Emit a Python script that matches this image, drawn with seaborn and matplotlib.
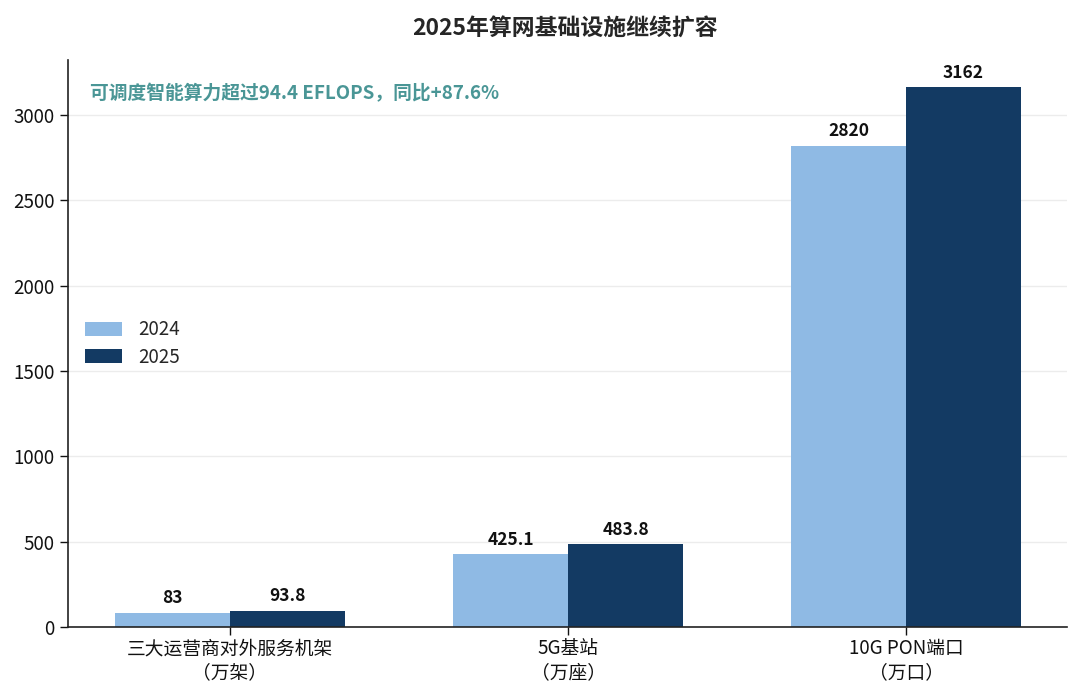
import pandas as pd
import matplotlib.pyplot as plt
import seaborn as sns

# Datos
categorias = ["三大运营商对外服务机架\n（万架）", "5G基站\n（万座）", "10G PON端口\n（万口）"]
valores_2024 = [83, 425.1, 2820]
valores_2025 = [93.8, 483.8, 3162]
etiquetas_2024 = ["83", "425.1", "2820"]
etiquetas_2025 = ["93.8", "483.8", "3162"]
anios = ["2024", "2025"]

df = pd.DataFrame({
    "categoria": categorias * 2,
    "valor": valores_2024 + valores_2025,
    "anio": [anios[0]] * 3 + [anios[1]] * 3,
})

sns.set_theme(style="whitegrid")
plt.rcParams["font.family"] = ["Noto Sans CJK SC", "DejaVu Sans"]
plt.rcParams["axes.unicode_minus"] = False

fig = plt.figure(figsize=(10.8, 6.97), dpi=100)
ax = fig.add_axes([0.063, 0.1004, 0.925, 0.8136])

sns.barplot(data=df, x="categoria", y="valor", hue="anio", width=0.68,
            palette=["#8fbae4", "#133a63"], saturation=1, linewidth=0, ax=ax)

# Etiquetas de valor
for cont, etiquetas in zip(ax.containers, [etiquetas_2024, etiquetas_2025]):
    ax.bar_label(cont, labels=etiquetas, padding=4, fontsize=12.5, fontweight="bold", color="#111111")

ax.set_xlim(-0.479, 2.476)
ax.set_ylim(0, 3323)
ax.set_yticks([0, 500, 1000, 1500, 2000, 2500, 3000])
ax.set_xlabel("")
ax.set_ylabel("")
ax.tick_params(axis="both", labelsize=13.5, colors="#111111", length=6, width=1, direction="out")
ax.tick_params(axis="x", pad=2)
ax.grid(axis="y", color="#ececec", linewidth=1)
ax.grid(axis="x", visible=False)
ax.set_facecolor("white")
for s in ["top", "right"]:
    ax.spines[s].set_visible(False)
for s in ["left", "bottom"]:
    ax.spines[s].set_color("#222222")
    ax.spines[s].set_linewidth(1.2)
ax.yaxis.set_ticks_position("left")
ax.xaxis.set_ticks_position("bottom")

ax.legend(loc="center left", bbox_to_anchor=(0.0, 0.50), frameon=False, fontsize=13.5,
          handlelength=2.0, handleheight=0.8, labelspacing=0.35, handletextpad=0.85)

ax.text(0.022, 0.94, "可调度智能算力超过94.4 EFLOPS，同比+87.6%", transform=ax.transAxes,
        fontsize=13.5, fontweight="bold", color="#4a9696", va="center", ha="left")

fig.suptitle("2025年算网基础设施继续扩容", x=0.523, y=0.975, fontsize=16.5, fontweight="bold")

fig.savefig("out.png", dpi=100)
